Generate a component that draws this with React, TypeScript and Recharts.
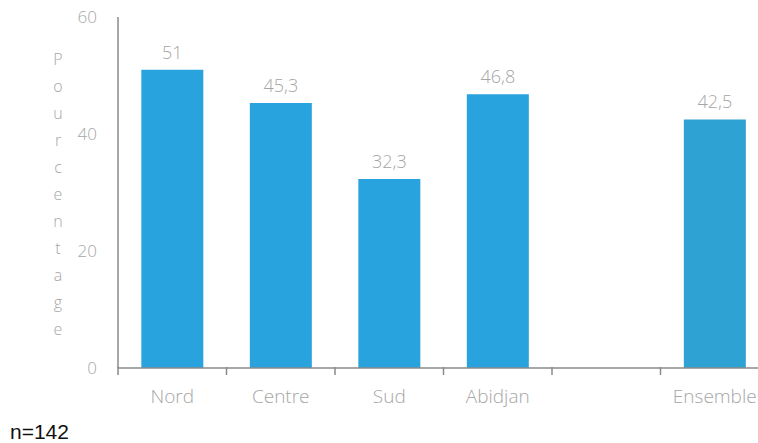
import React from 'react';
import { BarChart, Bar, XAxis, YAxis, LabelList, Cell } from 'recharts';

const regions = ['Nord', 'Centre', 'Sud', 'Abidjan', ' ', 'Ensemble'];
const pourcentages: Array<number | null> = [51, 45.3, 32.3, 46.8, null, 42.5];
const yTicks = [0, 20, 40, 60];
const yLabel = 'Pourcentage';
const sampleNote = 'n=142';

const data = regions.map((name, i) => ({ name, value: pourcentages[i] }));

const FONT = '"Open Sans", "DejaVu Sans", sans-serif';
const TEXT_GREY = '#a6a6a6';
const AXIS_GREY = '#8a8a8a';
const BLUE = '#29a3dd';
const BLUE_TOTAL = '#2ea2d3';

const CHART_W = 780;
const MARGIN = { top: 17, right: 11, left: 0, bottom: 35 };
const Y_W = 118;
const BAND = (CHART_W - MARGIN.left - MARGIN.right - Y_W) / regions.length;

function StackedLabel(props: any) {
  const { viewBox } = props;
  const top = viewBox ? viewBox.y : 17;
  return (
    <g>
      {yLabel.split('').map((ch, i) => (
        <text
          key={i}
          x={58}
          y={top + 48 + i * 27}
          textAnchor="middle"
          fontFamily={FONT}
          fontWeight={300}
          fontSize={16}
          fill={TEXT_GREY}
        >
          {ch}
        </text>
      ))}
    </g>
  );
}

// ticks sit on the category boundaries, not the centres
function BoundaryTick(props: any) {
  const { x, y, payload } = props;
  const left = x - BAND / 2;
  return (
    <g>
      <line x1={left} x2={left} y1={y - 1} y2={y + 7} stroke={AXIS_GREY} strokeWidth={1.5} />
      <text
        x={x}
        y={y + 22}
        dy="0.71em"
        textAnchor="middle"
        fontFamily={FONT}
        fontWeight={300}
        fontSize={19}
        fill={TEXT_GREY}
      >
        {payload.value}
      </text>
    </g>
  );
}

const fmt = (v: any) => (v == null ? '' : String(v).replace('.', ','));

export default function App() {
  return (
    <div style={{ position: 'fixed', left: 0, top: 0, width: 758, height: 443, overflow: 'hidden', background: '#fff' }}>
      <BarChart width={CHART_W} height={443} data={data} margin={MARGIN} barCategoryGap="21.5%">
        <YAxis
          domain={[0, 60]}
          ticks={yTicks}
          width={Y_W}
          axisLine={{ stroke: AXIS_GREY, strokeWidth: 1.5 }}
          tickLine={false}
          tickSize={6}
          tickMargin={15}
          tick={{ fill: TEXT_GREY, fontSize: 17, fontFamily: FONT, fontWeight: 300 }}
          label={<StackedLabel />}
        />
        <XAxis
          dataKey="name"
          height={40}
          axisLine={{ stroke: AXIS_GREY, strokeWidth: 1.5 }}
          tickLine={false}
          tickSize={0}
          tickMargin={0}
          interval={0}
          tick={<BoundaryTick />}
        />
        <Bar dataKey="value" isAnimationActive={false}>
          {data.map((d, i) => (
            <Cell key={i} fill={d.name === 'Ensemble' ? BLUE_TOTAL : BLUE} />
          ))}
          <LabelList
            dataKey="value"
            position="top"
            offset={11}
            formatter={fmt}
            style={{ fill: TEXT_GREY, fontSize: 18, fontFamily: FONT, fontWeight: 300 }}
          />
        </Bar>
      </BarChart>
      <div
        style={{
          position: 'absolute',
          left: 10,
          top: 421,
          fontFamily: '"Liberation Sans", Arial, sans-serif',
          fontSize: 21,
          color: '#111',
          lineHeight: '22px',
        }}
      >
        {sampleNote}
      </div>
    </div>
  );
}
